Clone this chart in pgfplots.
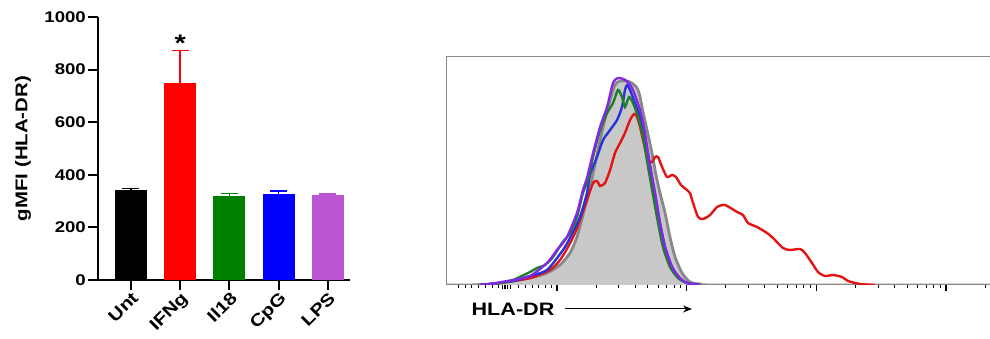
\documentclass[border=0pt]{standalone}
\usepackage{pgfplots}
\pgfplotsset{compat=1.18}
\usepackage{fontspec}
\setmainfont{Liberation Sans}[FakeStretch=1.2]
\usetikzlibrary{arrows.meta}
\definecolor{barred}{RGB}{255,0,0}
\definecolor{bargreen}{RGB}{0,128,0}
\definecolor{barblue}{RGB}{0,0,255}
\definecolor{barlps}{RGB}{186,85,211}
\definecolor{histfill}{RGB}{200,200,200}
\definecolor{histgray}{RGB}{136,136,136}
\definecolor{hpurple}{RGB}{130,40,230}
\definecolor{hblue}{RGB}{40,50,220}
\definecolor{hgreen}{RGB}{30,125,40}
\definecolor{hred}{RGB}{228,20,20}
\begin{document}
\begin{tikzpicture}
\useasboundingbox (0,0) rectangle (990pt,339pt);
\begin{axis}[
  at={(98pt,59pt)}, anchor=south west,
  scale only axis, width=252pt, height=263pt,
  xmin=-0.67, xmax=4.45, ymin=0, ymax=1000,
  axis x line*=bottom, axis y line*=left,
  axis line style={line width=2pt, -},
  ytick={0,200,400,600,800,1000},
  xtick={0,1,2,3,4},
  xticklabels={Unt,IFNg,Il18,CpG,LPS},
  tick align=outside,
  major tick length=10pt,
  tick style={line width=2pt, black},
  /pgf/number format/assume math mode=true,
  /pgf/number format/1000 sep={},
  ticklabel style={font=\bfseries\fontsize{15.5}{17}\selectfont},
  yticklabel style={inner sep=2pt},
  xticklabel style={font=\bfseries\fontsize{17}{18}\selectfont, rotate=45, anchor=north east, inner sep=0.5pt},
  ylabel={gMFI (HLA-DR)},
  ylabel style={font=\bfseries\fontsize{17}{19}\selectfont, at={(axis description cs:-0.298,0.5)}, anchor=center},
  clip=false,
]
\addplot[ybar, bar width=32pt, bar shift=0pt, fill=black, draw=none,
  error bars/.cd, y dir=plus, y explicit, error mark=|,
  error bar style={black, line width=1.5pt},
  error mark options={black, line width=1.5pt, mark size=8.5pt}]
  coordinates {(0,343) +- (0,5)};
\addplot[ybar, bar width=32pt, bar shift=0pt, fill=barred, draw=none,
  error bars/.cd, y dir=plus, y explicit, error mark=|,
  error bar style={barred, line width=1.5pt},
  error mark options={barred, line width=1.5pt, mark size=8.5pt}]
  coordinates {(1,748) +- (0,125)};
\addplot[ybar, bar width=32pt, bar shift=0pt, fill=bargreen, draw=none,
  error bars/.cd, y dir=plus, y explicit, error mark=|,
  error bar style={bargreen, line width=1.5pt},
  error mark options={bargreen, line width=1.5pt, mark size=8.5pt}]
  coordinates {(2,320) +- (0,8)};
\addplot[ybar, bar width=32pt, bar shift=0pt, fill=barblue, draw=none,
  error bars/.cd, y dir=plus, y explicit, error mark=|,
  error bar style={barblue, line width=1.5pt},
  error mark options={barblue, line width=1.5pt, mark size=8.5pt}]
  coordinates {(3,328) +- (0,10)};
\addplot[ybar, bar width=32pt, bar shift=0pt, fill=barlps, draw=none,
  error bars/.cd, y dir=plus, y explicit, error mark=|,
  error bar style={barlps, line width=1.5pt},
  error mark options={barlps, line width=1.5pt, mark size=8.5pt}]
  coordinates {(4,322) +- (0,5)};
\node[font=\bfseries\fontsize{24}{24}\selectfont] at (axis cs:1,899) {*};
\end{axis}

\begin{axis}[
  at={(446pt,54pt)}, anchor=south west,
  scale only axis, width=549pt, height=228pt,
  xmin=1.144, xmax=5.377, ymin=0, ymax=228,
  axis x line*=bottom, axis y line*=left,
  x axis line style={black, line width=1pt, -},
  y axis line style={histgray, line width=1pt, -},
  ytick=\empty,
  xtick={2,3,4,5}, xticklabels={},
  minor xtick={1.24,1.29,1.34,1.39,1.45,1.50,1.55,1.70,1.76,1.81,1.86,1.91,1.96,
    2.301,2.477,2.602,2.699,2.778,2.845,2.903,2.954,
    3.301,3.477,3.602,3.699,3.778,3.845,3.903,3.954,
    4.301,4.477,4.602,4.699,4.778,4.845,4.903,4.954,5.301},
  extra x ticks={1.58,1.60,1.62,1.64}, extra x tick labels={},
  extra x tick style={major tick length=4pt, tick style={line width=1.6pt}},
  tick align=outside,
  major tick length=6pt, minor tick length=3pt,
  tick style={black},
  major tick style={line width=1.3pt},
  minor tick style={line width=0.8pt},
]
\addplot[smooth, tension=0.4, fill=histfill, draw=none] table {
1.144 0
1.329 0
1.483 1
1.561 2
1.792 7
1.923 12
2.023 20
2.100 32
2.154 48
2.200 70
2.254 97
2.308 130
2.355 158
2.409 185
2.447 200
2.486 204
2.563 203
2.617 197
2.640 188
2.663 173
2.694 155
2.732 132
2.763 110
2.794 92
2.833 72
2.871 48
2.910 28
2.964 12
3.025 3
3.103 1
3.257 0
5.377 0
} \closedcycle;
\addplot[smooth, tension=0.4, histgray, line width=2.8pt] table {
1.144 0
1.329 0
1.483 1
1.561 2
1.792 7
1.923 12
2.023 20
2.100 32
2.154 48
2.200 70
2.254 97
2.308 130
2.355 158
2.409 185
2.447 200
2.486 204
2.563 203
2.617 197
2.640 188
2.663 173
2.694 155
2.732 132
2.763 110
2.794 92
2.833 72
2.871 48
2.910 28
2.964 12
3.025 3
3.103 1
3.257 0
5.377 0
};
\addplot[smooth, tension=0.4, hred, line width=2.4pt] table {
1.406 0
1.561 2
1.792 7
1.946 15
2.023 25
2.085 38
2.139 52
2.177 65
2.231 85
2.278 102
2.308 104
2.332 99
2.370 102
2.409 115
2.447 132
2.486 142
2.524 152
2.563 165
2.594 171
2.617 168
2.640 158
2.663 145
2.702 125
2.732 123
2.756 128
2.779 128
2.810 118
2.848 108
2.887 110
2.917 108
2.956 100
3.002 95
3.025 92
3.049 82
3.087 68
3.126 66
3.180 70
3.234 78
3.295 80
3.388 73
3.434 70
3.473 62
3.542 58
3.619 52
3.665 47
3.742 37
3.796 35
3.874 36
3.912 32
3.966 22
4.012 13
4.066 9
4.128 10
4.197 8
4.244 4
4.336 1
4.452 0
};
\addplot[smooth, tension=0.4, hblue, line width=2.4pt] table {
1.406 0
1.483 1
1.661 4
1.792 9
1.923 15
2.046 35
2.100 47
2.177 68
2.231 92
2.254 110
2.308 128
2.355 145
2.409 155
2.463 165
2.501 178
2.524 195
2.540 200
2.563 195
2.601 182
2.640 168
2.678 148
2.717 120
2.756 90
2.794 62
2.833 38
2.887 18
2.948 6
3.025 1
3.103 0
};
\addplot[smooth, tension=0.4, hgreen, line width=2.4pt] table {
1.406 0
1.561 2
1.661 5
1.792 13
1.846 17
1.907 20
1.969 28
2.039 42
2.100 52
2.154 68
2.200 92
2.239 105
2.278 128
2.332 155
2.386 172
2.432 182
2.470 195
2.501 188
2.524 178
2.555 188
2.586 182
2.625 168
2.663 148
2.702 118
2.740 90
2.779 62
2.817 38
2.871 18
2.933 7
3.002 2
3.103 0
};
\addplot[smooth, tension=0.4, hpurple, line width=2.4pt] table {
1.406 0
1.483 1
1.661 5
1.792 9
1.923 22
2.000 35
2.077 48
2.154 72
2.200 95
2.231 107
2.278 132
2.332 158
2.386 178
2.432 202
2.470 207
2.509 206
2.547 203
2.586 195
2.640 175
2.678 152
2.717 118
2.756 92
2.794 62
2.833 38
2.887 18
2.948 7
3.002 2
3.103 0
};
\draw[histgray, line width=1pt] (rel axis cs:0,1) -- (rel axis cs:1,1);
\end{axis}
\node[font=\bfseries\fontsize{18}{20}\selectfont] at (513pt,30pt) {HLA-DR};
\draw[-{Stealth[length=9pt,width=7pt]}, line width=1pt] (565pt,30pt) -- (692pt,30pt);
\end{tikzpicture}
\end{document}
